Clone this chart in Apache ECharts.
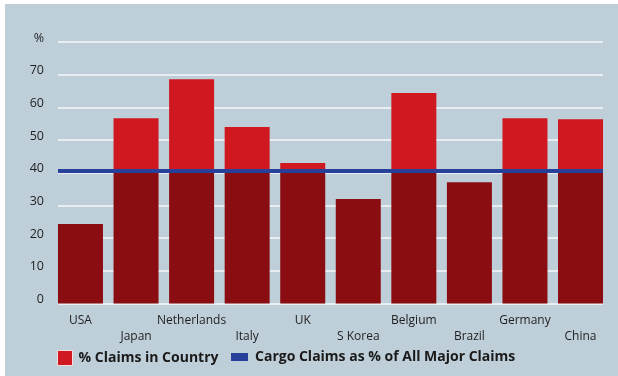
<!DOCTYPE html>
<html>
<head>
<meta charset="utf-8">
<script src="https://cdn.jsdelivr.net/npm/echarts@6/dist/echarts.min.js"></script>
<style>
  html, body { margin: 0; padding: 0; background: #ffffff; }
  #chart { width: 618px; height: 376px; }
</style>
</head>
<body>
<div id="chart"></div>
<script>
// Share of claims made in each country (%)
const countries = ['USA', 'Japan', 'Netherlands', 'Italy', 'UK', 'S Korea', 'Belgium', 'Brazil', 'Germany', 'China'];
const claimsInCountry = [24.3, 56.7, 68.6, 54.0, 43.0, 32.0, 64.4, 37.1, 56.7, 56.4];
// Cargo claims as a share of all major claims (%)
const cargoShare = 40.5;
const yTicks = [0, 10, 20, 30, 40, 50, 60, 70, 80];

const claimsName = '% Claims in Country';
const cargoName = 'Cargo Claims as % of All Major Claims';

// Each bar is split at the cargo line: dark below it, bright red above it
const belowLine = claimsInCountry.map(v => Math.min(v, cargoShare));
const aboveLine = claimsInCountry.map(v => Math.max(v - cargoShare, 0));

const FONT = 'Open Sans';
const chart = echarts.init(document.getElementById('chart'), null, { renderer: 'canvas' });

chart.setOption({
  backgroundColor: '#ffffff',
  animation: false,
  textStyle: { fontFamily: FONT },
  graphic: [{
    type: 'rect', z: -10, silent: true,
    shape: { x: 5, y: 4, width: 613, height: 372 },
    style: { fill: '#bfcfd9' }
  }],
  grid: [
    // value scale with gridlines and the cargo line
    { left: 58, right: 15, top: 42, bottom: 72.5 },
    // category bands for the bars
    { left: 52.7, right: 9.7, top: 42, bottom: 72.5 }
  ],
  xAxis: [
    { gridIndex: 0, type: 'value', min: 0, max: 1, show: false },
    {
      gridIndex: 1, type: 'category', data: countries,
      axisLine: { show: false }, axisTick: { show: false },
      axisLabel: {
        interval: 0, margin: 9, color: '#1e1e1e', fontSize: 12, lineHeight: 16,
        formatter: (v, i) => (i % 2 === 1 ? '\n' + v : v)
      }
    }
  ],
  yAxis: [
    {
      gridIndex: 0, type: 'value', min: yTicks[0], max: yTicks[yTicks.length - 1], interval: 10,
      axisLine: { show: false }, axisTick: { show: false },
      axisLabel: {
        margin: 14, color: '#1e1e1e', fontSize: 12.5, verticalAlign: 'bottom', lineHeight: 8,
        formatter: v => (v === 80 ? '%' : String(v))
      },
      splitLine: { show: true, lineStyle: { color: '#f4f7f9', width: 1.5 } }
    },
    { gridIndex: 1, type: 'value', min: 0, max: 80, interval: 10, show: false }
  ],
  legend: [
    {
      left: 57, top: 350, padding: 0, itemWidth: 15, itemHeight: 15,
      data: [{ name: claimsName, icon: 'rect' }],
      itemStyle: { borderColor: '#f2dede', borderWidth: 1 },
      textStyle: { fontFamily: FONT, fontSize: 14, fontWeight: 'bold', color: '#1a1a1a', padding: [0, 0, 0, 1] }
    },
    {
      left: 231, top: 350, padding: 0, itemWidth: 17, itemHeight: 8,
      data: [{ name: cargoName, icon: 'rect' }],
      textStyle: { fontFamily: FONT, fontSize: 14, fontWeight: 'bold', color: '#1a1a1a', padding: [0, 0, 0, 2] }
    }
  ],
  series: [
    {
      name: 'below', type: 'bar', xAxisIndex: 1, yAxisIndex: 1, stack: 'claims',
      barWidth: 45, data: belowLine,
      itemStyle: { color: '#8a0d11' }
    },
    {
      name: claimsName, type: 'bar', xAxisIndex: 1, yAxisIndex: 1, stack: 'claims',
      barWidth: 45, data: aboveLine,
      itemStyle: { color: '#cf1820' }
    },
    {
      name: cargoName, type: 'line', xAxisIndex: 0, yAxisIndex: 0,
      data: [[0, cargoShare], [1, cargoShare]], symbol: 'none', z: 5,
      lineStyle: { color: '#27419a', width: 4 },
      itemStyle: { color: '#27419a' }
    }
  ]
});
</script>
</body>
</html>
